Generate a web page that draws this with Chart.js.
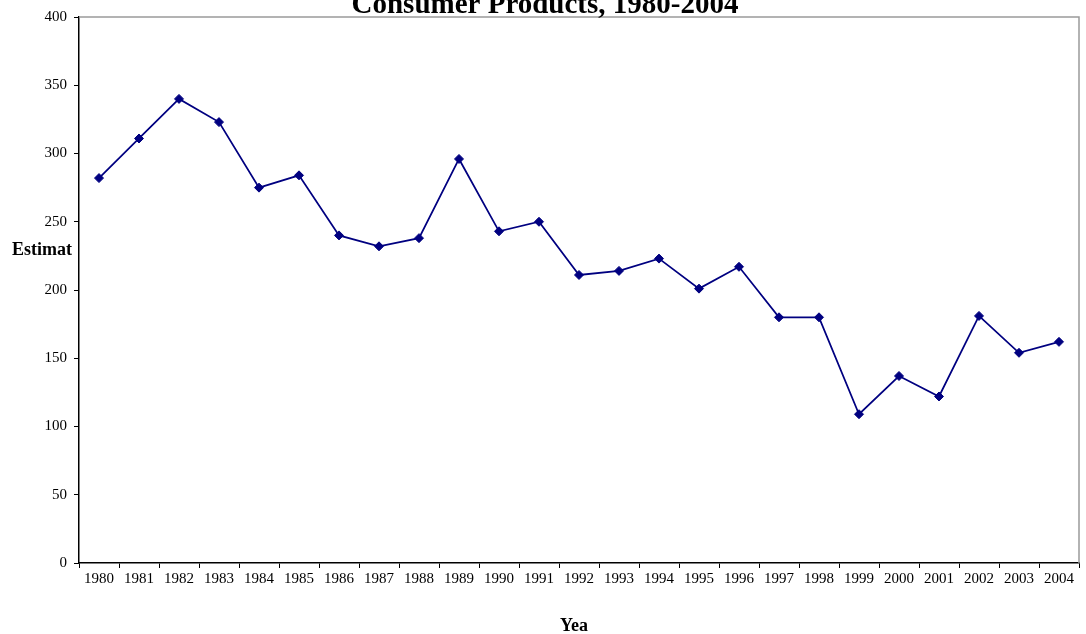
<!DOCTYPE html>
<html>
<head>
<meta charset="utf-8">
<title>Consumer Products, 1980-2004</title>
<script src="https://cdn.jsdelivr.net/npm/chart.js@4.4.0/dist/chart.umd.min.js"></script>
<style>
  html, body { margin: 0; padding: 0; background: #ffffff; }
  #wrap { width: 1086px; height: 634px; position: relative; }
</style>
</head>
<body>
<div id="wrap"><canvas id="chart" width="1086" height="634"></canvas></div>
<script>
// Yearly categories
const years = ['1980','1981','1982','1983','1984','1985','1986','1987','1988','1989',
               '1990','1991','1992','1993','1994','1995','1996','1997','1998','1999',
               '2000','2001','2002','2003','2004'];

// Estimated values per year
const estimates = [282, 311, 340, 323, 275, 284, 240, 232, 238, 296,
                   243, 250, 211, 214, 223, 201, 217, 180, 180, 109,
                   137, 122, 181, 154, 162];

// Value axis ticks
const yTicks = [0, 50, 100, 150, 200, 250, 300, 350, 400];

const chartTitle = 'Consumer Products, 1980-2004';
const yAxisTitle = 'Estimat';
const xAxisTitle = 'Yea';

const SERIF = '"Liberation Serif", "Times New Roman", Times, serif';
const NAVY = '#000080';

// Grey frame on the top and right of the plot area, plus the text titles
const decorations = {
  id: 'decorations',
  afterDraw(chart) {
    const { ctx, chartArea } = chart;
    ctx.save();
    ctx.strokeStyle = '#9a9a9a';
    ctx.lineWidth = 1.5;
    ctx.beginPath();
    ctx.moveTo(chartArea.left, chartArea.top);
    ctx.lineTo(chartArea.right, chartArea.top);
    ctx.lineTo(chartArea.right, chartArea.bottom);
    ctx.stroke();

    ctx.fillStyle = '#000';
    ctx.textAlign = 'center';
    ctx.textBaseline = 'alphabetic';
    ctx.font = 'bold 29px ' + SERIF;
    ctx.fillText(chartTitle, 545, 13);

    ctx.font = 'bold 18px ' + SERIF;
    ctx.fillText(yAxisTitle, 42, 255);

    ctx.font = 'bold 18px ' + SERIF;
    ctx.fillText(xAxisTitle, 574, 631);
    ctx.restore();
  }
};

new Chart(document.getElementById('chart'), {
  type: 'line',
  data: {
    labels: years,
    datasets: [{
      data: estimates,
      borderColor: NAVY,
      backgroundColor: NAVY,
      borderWidth: 1.75,
      tension: 0,
      pointStyle: 'rectRot',
      pointRadius: 4.5,
      pointHoverRadius: 4.5,
      pointBackgroundColor: NAVY,
      pointBorderColor: NAVY,
      pointBorderWidth: 1
    }]
  },
  options: {
    responsive: false,
    animation: false,
    layout: { padding: { left: 0, top: 17, right: 7, bottom: 0 } },
    plugins: {
      legend: { display: false },
      tooltip: { enabled: false },
      title: { display: false }
    },
    scales: {
      x: {
        type: 'category',
        offset: true,
        grid: {
          offset: true,
          drawOnChartArea: false,
          drawTicks: true,
          tickLength: 5,
          color: '#000',
          lineWidth: 1
        },
        border: { display: true, color: '#000', width: 1.5 },
        ticks: {
          color: '#000',
          font: { family: SERIF, size: 15 },
          padding: 2,
          maxRotation: 0,
          autoSkip: false
        },
        afterFit(scale) { scale.height = 71; }
      },
      y: {
        min: 0,
        max: 400,
        afterBuildTicks(scale) { scale.ticks = yTicks.map(v => ({ value: v })); },
        grid: {
          drawOnChartArea: false,
          drawTicks: true,
          tickLength: 5,
          color: '#000',
          lineWidth: 1
        },
        border: { display: true, color: '#000', width: 1.5 },
        ticks: {
          color: '#000',
          font: { family: SERIF, size: 15 },
          padding: 7
        },
        afterFit(scale) { scale.width = 79; }
      }
    }
  },
  plugins: [decorations]
});
</script>
</body>
</html>
